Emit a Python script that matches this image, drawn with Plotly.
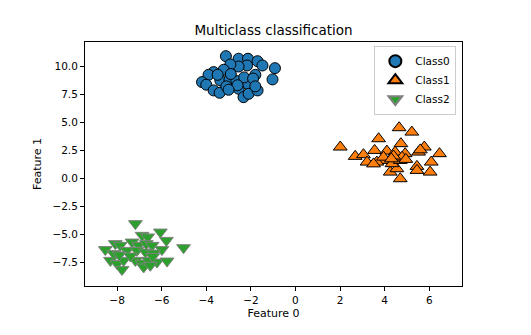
import plotly.graph_objects as go

# Data
class0_x = [-3.12, -2.55, -2.13, -1.70, -1.48, -0.92, -1.03, -1.80, -2.17, -2.55,
            -2.92, -3.22, -3.67, -3.90, -4.19, -4.00, -3.37, -3.67, -3.40, -2.96,
            -2.65, -2.17, -2.55, -2.33, -2.10, -1.70, -3.49, -2.90, -2.30, -1.90,
            -3.10, -2.60, -1.80, -3.00]
class0_y = [10.89, 10.66, 10.66, 10.44, 10.06, 9.82, 8.82, 9.23, 10.06, 9.97,
            10.15, 9.68, 9.47, 9.23, 8.58, 8.35, 8.73, 7.84, 7.63, 8.79,
            8.67, 8.43, 7.99, 7.24, 7.54, 7.84, 9.23, 9.30, 9.00, 8.90,
            8.20, 8.30, 8.20, 7.90]

class1_x = [2.01, 2.68, 3.05, 3.21, 3.55, 3.73, 4.65, 5.22, 4.10, 4.73,
            4.47, 4.92, 5.52, 5.78, 6.46, 6.09, 5.45, 5.45, 6.04, 4.70,
            4.25, 4.55, 3.88, 3.65, 4.33, 4.70, 4.78, 4.40, 4.95, 3.95,
            4.30, 3.50, 5.60]
class1_y = [2.80, 1.97, 2.12, 1.46, 2.50, 3.54, 4.52, 4.13, 2.44, 3.10,
            2.35, 2.21, 2.35, 2.80, 2.21, 1.46, 1.08, 0.72, 0.57, -0.02,
            0.57, 0.87, 1.61, 1.46, 1.32, 1.61, 1.90, 2.00, 1.70, 1.90,
            1.75, 1.30, 2.55]

class2_x = [-7.18, -6.06, -6.88, -6.63, -5.79, -5.02, -8.53, -8.08, -7.86, -7.33,
            -7.04, -6.69, -6.43, -5.99, -7.56, -7.11, -6.73, -6.36, -8.30, -8.00,
            -7.71, -7.78, -7.18, -6.88, -6.59, -6.21, -5.76, -6.81, -6.51, -8.15,
            -7.90, -7.40, -6.40]
class2_y = [-4.02, -4.77, -5.06, -5.21, -5.51, -6.16, -6.33, -5.80, -5.95, -5.66,
            -5.95, -5.80, -5.95, -6.33, -6.40, -6.40, -6.55, -6.64, -7.29, -7.58,
            -7.29, -8.11, -7.29, -7.53, -7.29, -7.44, -7.35, -7.88, -7.73, -6.69,
            -6.80, -6.90, -6.95]

names = ["Class0", "Class1", "Class2"]
x_ticks = [-8, -6, -4, -2, 0, 2, 4, 6]
y_ticks = [-7.5, -5.0, -2.5, 0.0, 2.5, 5.0, 7.5, 10.0]

FONT = "DejaVu Sans"

fig = go.Figure()
fig.add_trace(go.Scatter(x=class0_x, y=class0_y, mode="markers", name=names[0],
                         marker=dict(symbol="circle", size=11, color="#1f77b4",
                                     line=dict(color="black", width=1))))
fig.add_trace(go.Scatter(x=class1_x, y=class1_y, mode="markers", name=names[1],
                         marker=dict(symbol="triangle-up", size=12, color="#ff7f0e",
                                     line=dict(color="black", width=1))))
fig.add_trace(go.Scatter(x=class2_x, y=class2_y, mode="markers", name=names[2],
                         marker=dict(symbol="triangle-down", size=12, color="#2ca02c",
                                     line=dict(color="#808080", width=1))))

fig.update_layout(
    width=531, height=335, autosize=False,
    margin=dict(l=85, r=69, t=42, b=49),
    paper_bgcolor="white", plot_bgcolor="white",
    font=dict(family=FONT, size=10, color="black"),
    title=dict(text="Multiclass classification", x=(85 + 462) / 2 / 531, xanchor="center",
               y=1 - 30 / 335, yanchor="middle", font=dict(size=13.5, family=FONT, color="black")),
    showlegend=True,
    legend=dict(x=0.985, y=0.985, xanchor="right", yanchor="top",
                bgcolor="rgba(255,255,255,0.8)", bordercolor="#cccccc", borderwidth=1,
                font=dict(size=10.5, family=FONT), tracegroupgap=0, itemsizing="constant"),
)
fig.update_xaxes(range=[-9.44, 7.47], tickvals=x_ticks, ticks="outside", ticklen=4,
                 tickfont=dict(size=10.5), tickcolor="black", showline=True, linecolor="black",
                 linewidth=1, mirror=True, showgrid=False, zeroline=False,
                 title=dict(text="Feature 0", standoff=4, font=dict(size=11, family=FONT)))
fig.update_yaxes(range=[-9.57, 12.15], tickvals=y_ticks, tickformat=".1f", ticks="outside",
                 tickfont=dict(size=10.5), ticklen=4, tickcolor="black", showline=True,
                 linecolor="black", linewidth=1, mirror=True, showgrid=False, zeroline=False,
                 title=dict(text="Feature 1", standoff=8, font=dict(size=11, family=FONT)))

fig.write_html("out.html")
